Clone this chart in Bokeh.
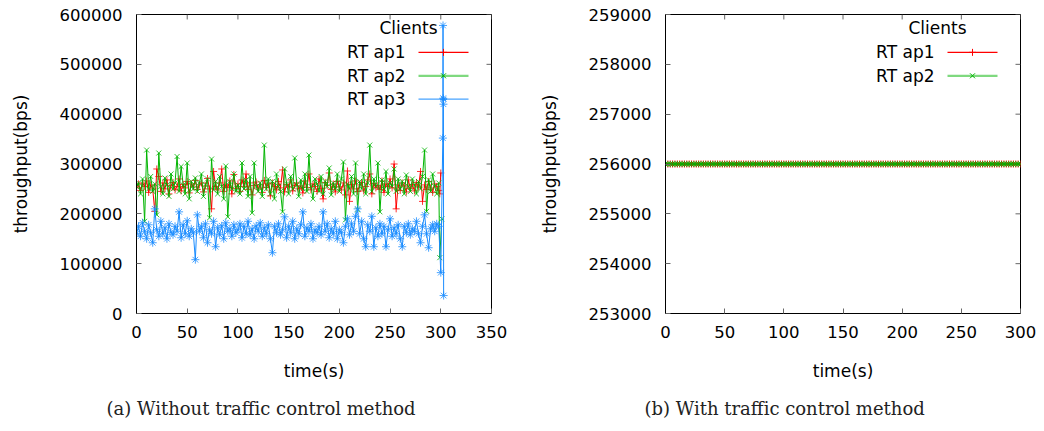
from bokeh.plotting import figure
from bokeh.models import FixedTicker, Label, NumeralTickFormatter, Title
from bokeh.layouts import row
from bokeh.embed import file_html
from bokeh.resources import INLINE

# ---------------- data: (a) without traffic control ----------------
time_a = list(range(0, 300, 2))
ap1_a = [252000, 260000, 247000, 262000, 255000, 266000, 243000, 258000, 250000, 205000,
         290000, 275000, 245000, 262000, 250000, 268000, 240000, 257000, 263000, 248000,
         255000, 270000, 246000, 259000, 252000, 265000, 242000, 260000, 254000, 267000,
         249000, 258000, 262000, 244000, 256000, 271000, 250000, 210000, 285000, 255000,
         248000, 262000, 290000, 245000, 258000, 253000, 266000, 240000, 279000, 251000,
         260000, 245000, 268000, 255000, 280000, 249000, 262000, 238000, 257000, 264000,
         250000, 258000, 243000, 267000, 253000, 260000, 236000, 262000, 255000, 248000,
         265000, 252000, 288000, 244000, 259000, 254000, 268000, 246000, 257000, 262000,
         250000, 256000, 242000, 266000, 253000, 280000, 248000, 260000, 255000, 245000,
         270000, 251000, 230000, 263000, 257000, 282000, 249000, 260000, 244000, 265000,
         254000, 248000, 262000, 238000, 286000, 225000, 259000, 250000, 266000, 245000,
         258000, 263000, 246000, 255000, 268000, 280000, 240000, 261000, 252000, 257000,
         249000, 266000, 243000, 260000, 255000, 270000, 252000, 300000, 210000, 258000,
         247000, 262000, 256000, 244000, 268000, 251000, 259000, 246000, 263000, 254000,
         285000, 225000, 258000, 249000, 265000, 252000, 243000, 260000, 255000, 247000]
ap1_tail_t = [299, 300]
ap1_tail = [240000, 282000]

ap2_a = [255000, 262000, 240000, 270000, 185000, 328000, 250000, 275000, 245000, 260000,
         198000, 322000, 255000, 240000, 272000, 258000, 235000, 280000, 250000, 262000,
         315000, 245000, 295000, 258000, 240000, 302000, 230000, 265000, 250000, 272000,
         245000, 262000, 280000, 235000, 258000, 270000, 192000, 310000, 248000, 265000,
         240000, 275000, 255000, 230000, 296000, 194000, 265000, 250000, 280000, 245000,
         258000, 240000, 302000, 250000, 268000, 235000, 275000, 202000, 302000, 255000,
         245000, 262000, 235000, 338000, 250000, 270000, 240000, 265000, 230000, 280000,
         255000, 245000, 204000, 290000, 260000, 240000, 275000, 250000, 312000, 258000,
         235000, 268000, 250000, 280000, 245000, 318000, 255000, 230000, 270000, 260000,
         245000, 275000, 240000, 265000, 255000, 292000, 238000, 262000, 250000, 280000,
         245000, 270000, 304000, 188000, 260000, 250000, 275000, 240000, 302000, 208000,
         265000, 250000, 280000, 240000, 262000, 338000, 245000, 270000, 255000, 302000,
         204000, 268000, 250000, 285000, 240000, 262000, 255000, 290000, 245000, 270000,
         250000, 265000, 240000, 278000, 255000, 245000, 270000, 258000, 240000, 265000,
         250000, 275000, 328000, 205000, 268000, 245000, 280000, 255000, 240000, 262000]
ap2_tail_t = [299, 301]
ap2_tail = [112000, 190000]

ap3_a = [160000, 175000, 155000, 182000, 165000, 150000, 178000, 162000, 142000, 210000,
         168000, 155000, 185000, 160000, 172000, 150000, 180000, 163000, 158000, 175000,
         165000, 204000, 152000, 178000, 160000, 186000, 155000, 170000, 162000, 108000,
         198000, 165000, 175000, 152000, 180000, 142000, 168000, 160000, 185000, 134000,
         172000, 158000, 176000, 150000, 182000, 165000, 170000, 155000, 178000, 162000,
         168000, 180000, 152000, 175000, 160000, 185000, 158000, 170000, 150000, 176000,
         165000, 182000, 155000, 172000, 160000, 178000, 150000, 122000, 175000, 162000,
         180000, 158000, 168000, 194000, 152000, 175000, 162000, 185000, 150000, 170000,
         160000, 178000, 204000, 155000, 172000, 165000, 180000, 150000, 168000, 162000,
         175000, 158000, 204000, 165000, 180000, 152000, 170000, 160000, 185000, 150000,
         168000, 162000, 142000, 175000, 190000, 158000, 180000, 165000, 195000, 210000,
         160000, 185000, 150000, 134000, 178000, 165000, 195000, 134000, 172000, 155000,
         180000, 160000, 175000, 134000, 168000, 190000, 155000, 172000, 160000, 178000,
         150000, 134000, 175000, 162000, 180000, 158000, 170000, 165000, 185000, 160000,
         142000, 175000, 198000, 160000, 132000, 170000, 178000, 165000, 180000, 175000]
ap3_tail_t = [300, 302, 302.2, 302.4, 302.6, 302.8]
ap3_tail = [82000, 352000, 578000, 432000, 420000, 36000]

# ---------------- data: (b) with traffic control ----------------
time_b = list(range(0, 301, 2))
ap1_b = [256000] * len(time_b)
ap2_b = [256000] * len(time_b)

x_ticks_a = [0, 50, 100, 150, 200, 250, 300, 350]
y_ticks_a = [0, 100000, 200000, 300000, 400000, 500000, 600000]
x_ticks_b = [0, 50, 100, 150, 200, 250, 300]
y_ticks_b = [253000, 254000, 255000, 256000, 257000, 258000, 259000]

RED, GREEN, BLUE = "#ff0000", "#00b400", "#1a8cff"
SANS = "DejaVu Sans"
FW, FH = 355, 300
TICK = 5
TICK_COLOR = "#666666"


def make_fig(xr, yr, xt, yt, left, right, caption, cap_offset):
    p = figure(width=left + FW + right, height=431, x_range=xr, y_range=yr,
               output_backend="svg", toolbar_location=None,
               min_border_left=left, min_border_right=right,
               min_border_top=14, min_border_bottom=431 - 14 - FH)
    p.grid.visible = False
    p.outline_line_color = "black"
    p.outline_line_width = 1
    p.background_fill_color = "white"
    p.border_fill_color = "white"
    for ax in (p.xaxis[0], p.yaxis[0]):
        ax.major_tick_in = TICK
        ax.major_tick_out = 0
        ax.minor_tick_line_color = None
        ax.major_tick_line_color = TICK_COLOR
        ax.axis_line_color = "black"
        ax.major_label_text_font = SANS
        ax.major_label_text_font_size = "16.5px"
        ax.major_label_text_color = "black"
        ax.axis_label_text_font = SANS
        ax.axis_label_text_font_size = "17px"
        ax.axis_label_text_font_style = "normal"
        ax.axis_label_text_color = "black"
        ax.formatter = NumeralTickFormatter(format="0")
    p.xaxis[0].ticker = FixedTicker(ticks=xt)
    p.yaxis[0].ticker = FixedTicker(ticks=yt)
    p.xaxis[0].axis_label = "time(s)"
    p.yaxis[0].axis_label = "throughput(bps)"
    p.xaxis[0].major_label_standoff = 12
    p.xaxis[0].axis_label_standoff = 20
    p.yaxis[0].major_label_standoff = 14
    p.yaxis[0].axis_label_standoff = 26

    x0, x1 = xr
    y0, y1 = yr
    dx = (x1 - x0) * TICK / FW
    dy = (y1 - y0) * TICK / FH
    # mirrored inward ticks on the top and right borders
    p.segment(x0=xt, y0=[y1] * len(xt), x1=xt, y1=[y1 - dy] * len(xt),
              line_color=TICK_COLOR, line_width=1)
    p.segment(x0=[x1] * len(yt), y0=yt, x1=[x1 - dx] * len(yt), y1=yt,
              line_color=TICK_COLOR, line_width=1)

    p.add_layout(Title(text=caption, align="left", offset=cap_offset,
                       text_font="DejaVu Serif", text_font_size="18px",
                       text_font_style="normal", text_color="#222222",
                       standoff=25), "below")
    X = lambda px: x0 + (x1 - x0) * px / FW
    Y = lambda py: y1 - (y1 - y0) * py / FH
    return p, X, Y


def legend(p, X, Y, entries):
    p.add_layout(Label(x=X(FW - 54), y=Y(14), text="Clients", text_align="right",
                       text_baseline="middle", text_font=SANS, text_font_size="17px",
                       text_color="black"))
    for i, (name, color, marker, lw, alpha) in enumerate(entries):
        yy = Y(38 + i * 23.5)
        p.add_layout(Label(x=X(FW - 86), y=yy, text=name, text_align="right",
                           text_baseline="middle", text_font=SANS, text_font_size="17px",
                           text_color="black"))
        p.line([X(FW - 73), X(FW - 23)], [yy, yy], line_color=color, line_width=lw,
               line_alpha=alpha)
        p.scatter([X(FW - 48)], [yy], marker=marker, size=7, line_color=color,
                  line_width=1)


# ---------- figure (a) ----------
pa, Xa, Ya = make_fig((0, 350), (0, 600000), x_ticks_a, y_ticks_a, 136, 31,
                      "(a) Without traffic control method", -30)
series_a = [
    (time_a + ap1_tail_t, ap1_a + ap1_tail, RED, "cross", 7),
    (time_a + ap2_tail_t, ap2_a + ap2_tail, GREEN, "x", 7),
    (time_a + ap3_tail_t, ap3_a + ap3_tail, BLUE, "asterisk", 8),
]
for t, v, c, m, s in series_a:
    pa.line(t, v, line_color=c, line_width=1)
    pa.scatter(t, v, marker=m, size=s, line_color=c, line_width=1, line_alpha=0.8)
legend(pa, Xa, Ya, [("RT ap1", RED, "cross", 1.2, 1.0),
                    ("RT ap2", GREEN, "x", 2.2, 0.5),
                    ("RT ap3", BLUE, "asterisk", 1.2, 0.8)])

# ---------- figure (b) ----------
pb, Xb, Yb = make_fig((0, 300), (253000, 259000), x_ticks_b, y_ticks_b, 143, 24,
                      "(b) With traffic control method", -21)
for t, v, c, m in [(time_b, ap1_b, RED, "cross"), (time_b, ap2_b, GREEN, "x")]:
    pb.line(t, v, line_color=c, line_width=1)
    pb.scatter(t, v, marker=m, size=7, line_color=c, line_width=1)
legend(pb, Xb, Yb, [("RT ap1", RED, "cross", 1.2, 1.0),
                    ("RT ap2", GREEN, "x", 2.2, 0.5)])

layout = row(pa, pb)
open("out.html", "w").write(file_html(layout, INLINE))
